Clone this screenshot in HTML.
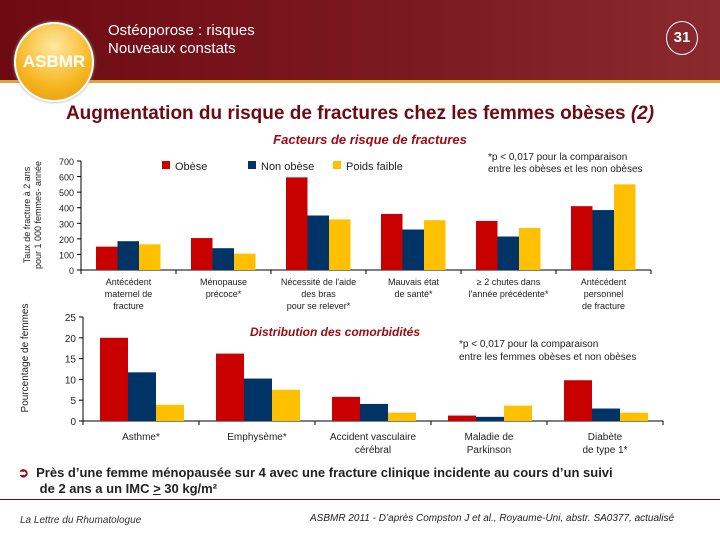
<!DOCTYPE html>
<html><head><meta charset="utf-8"><style>
body{margin:0;width:720px;height:540px;overflow:hidden;background:#fff;font-family:"Liberation Sans",sans-serif;position:relative}
.a{position:absolute}
</style></head><body>
<div class="a" style="left:0;top:0;width:720px;height:80px;background:linear-gradient(90deg,#6e0a12,#7c1a22 60%,#8a2a2e);border-bottom:3px solid #d9a640"></div>
<div class="a" style="left:14px;top:22px;width:76px;height:76px;border-radius:50%;background:radial-gradient(circle at 50% 30%,#ffe9a0,#f6b520 60%,#e29a10);border:2px solid #fff;box-shadow:0 0 3px #999;color:#fff;text-align:center;font-weight:bold;font-size:17px;line-height:76px">ASBMR</div>
<div class="a" style="left:108px;top:22px;color:#fff;font-size:15px;line-height:18px">Ostéoporose : risques<br>Nouveaux constats</div>
<div class="a" style="left:666px;top:21px;width:30px;height:32px;border:1px solid #fff;border-radius:50%;color:#fff;font-size:15px;font-weight:bold;text-align:center;line-height:32px">31</div>
<div class="a" style="left:0;width:720px;top:103px;text-align:center;color:#6e0a12;font-size:19px;font-weight:bold">Augmentation du risque de fractures chez les femmes obèses <i>(2)</i></div>
<div class="a" style="left:0;width:740px;top:132px;text-align:center;color:#9b0a12;font-size:13px;font-weight:bold;font-style:italic">Facteurs de risque de fractures</div>
<div class="a" style="left:488px;top:152px;font-size:10px;color:#222;line-height:12px">*p &lt; 0,017 pour la comparaison<br>entre les obèses et les non obèses</div>
<div class="a" style="left:250px;top:325px;color:#9b0a12;font-size:12px;font-weight:bold;font-style:italic">Distribution des comorbidités</div>
<div class="a" style="left:459px;top:338px;font-size:10px;color:#222;line-height:13px">*p &lt; 0,017  pour la comparaison<br>entre les femmes obèses et non obèses</div>
<svg class="a" style="left:0;top:0" width="720" height="540" id="svg"></svg>
<div class="a" style="left:18px;top:465px;font-size:13px;font-weight:bold;color:#222;line-height:16px"><span style="color:#9b0a12">➲</span>&nbsp; Près d’une femme ménopausée sur 4 avec une fracture clinique incidente au cours d’un suivi<br>&nbsp;&nbsp;&nbsp;&nbsp;&nbsp; de 2 ans a un IMC <u>&gt;</u> 30 kg/m²</div>
<div class="a" style="left:0;top:499px;width:720px;height:1px;background:#6e0a12"></div>
<div class="a" style="left:20px;top:515px;font-size:10px;font-style:italic;color:#333">La Lettre du Rhumatologue</div>
<div class="a" style="left:310px;top:513px;font-size:10px;font-style:italic;color:#222">ASBMR 2011 - D’après Compston J et al., Royaume-Uni, abstr. SA0377, actualisé</div>
<script>
const cats1=["Antécédent|maternel de|fracture","Ménopause|précoce*","Nécessité de l'aide|des bras|pour se relever*","Mauvais état|de santé*","≥ 2 chutes dans|l'année précédente*","Antécédent|personnel|de fracture"];
const obese1=[150,205,595,360,315,410];
const nonObese1=[185,140,350,260,215,385];
const faible1=[165,105,325,320,270,550];
const ticks1=[0,100,200,300,400,500,600,700];
const cats2=["Asthme*","Emphysème*","Accident vasculaire|cérébral","Maladie de|Parkinson","Diabète|de type 1*"];
const obese2=[20,16.2,5.8,1.3,9.8];
const nonObese2=[11.7,10.2,4.1,1.0,3.0];
const faible2=[3.9,7.5,2.0,3.7,2.0];
const ticks2=[0,5,10,15,20,25];
const colors=["#c80000","#003366","#ffc000"];
const svg=document.getElementById('svg');
const NS="http://www.w3.org/2000/svg";
function mk(t,a,p){const e=document.createElementNS(NS,t);for(const k in a)e.setAttribute(k,a[k]);(p||svg).appendChild(e);return e;}
function chart(o){
  const y=v=>o.y0-v/o.max*o.h, x=i=>o.x0+i*o.cw;
  mk('line',{x1:o.x0,y1:o.y0,x2:o.x0,y2:o.y0-o.h,stroke:'#000'});
  mk('line',{x1:o.x0,y1:o.y0,x2:x(o.cats.length),y2:o.y0,stroke:'#000'});
  o.ticks.forEach(t=>{mk('line',{x1:o.x0-4,y1:y(t),x2:o.x0,y2:y(t),stroke:'#000'});
    const tx=mk('text',{x:o.x0-7,y:y(t)+4,'text-anchor':'end','font-size':o.fs,fill:'#222'});tx.textContent=t;
    
    });
  for(let i=0;i<=o.cats.length;i++)mk('line',{x1:x(i),y1:o.y0,x2:x(i),y2:o.y0+4,stroke:'#000'});
  o.cats.forEach((c,i)=>{
    [o.s1,o.s2,o.s3].forEach((s,j)=>{const r=mk('rect',{x:x(i)+o.off+j*o.bw,y:y(s[i]),width:o.bw,height:o.y0-y(s[i]),fill:colors[j]});
      
      });
    c.split('|').forEach((l,k)=>{const tx=mk('text',{x:x(i)+o.cw/2,y:o.y0+o.ly+k*o.lh,'text-anchor':'middle','font-size':o.fs,fill:'#222'});tx.textContent=l;
      
      });
  });
}
chart({id:'c1',x0:81,y0:270,h:109,max:700,cw:95,bw:21.5,off:15,cats:cats1,s1:obese1,s2:nonObese1,s3:faible1,ticks:ticks1,fs:9,ly:15,lh:12});
chart({id:'c2',x0:83,y0:421,h:104,max:25,cw:116,bw:28,off:17,cats:cats2,s1:obese2,s2:nonObese2,s3:faible2,ticks:ticks2,fs:10,ly:19,lh:13});
// legend
["Obèse","Non obèse","Poids faible"].forEach((n,j)=>{const lx=[162,248,333][j];
  const r=mk('rect',{x:lx,y:161,width:8,height:8,fill:colors[j]});
  
  
  const t=mk('text',{x:lx+13,y:170,'font-size':11,fill:'#222'});t.textContent=n;
  
  });
// y titles
[["Taux de fracture à 2 ans",30,215],["pour 1 000 femmes- année",41,215]].forEach(a=>{const t=mk('text',{x:a[1],y:a[2],transform:`rotate(-90 ${a[1]} ${a[2]})`,'text-anchor':'middle','font-size':9,fill:'#222'});t.textContent=a[0];
  
  });
const t2=mk('text',{x:28,y:358,transform:'rotate(-90 28 358)','text-anchor':'middle','font-size':10,fill:'#222'});t2.textContent="Pourcentage de femmes";


</script>
</body></html>
